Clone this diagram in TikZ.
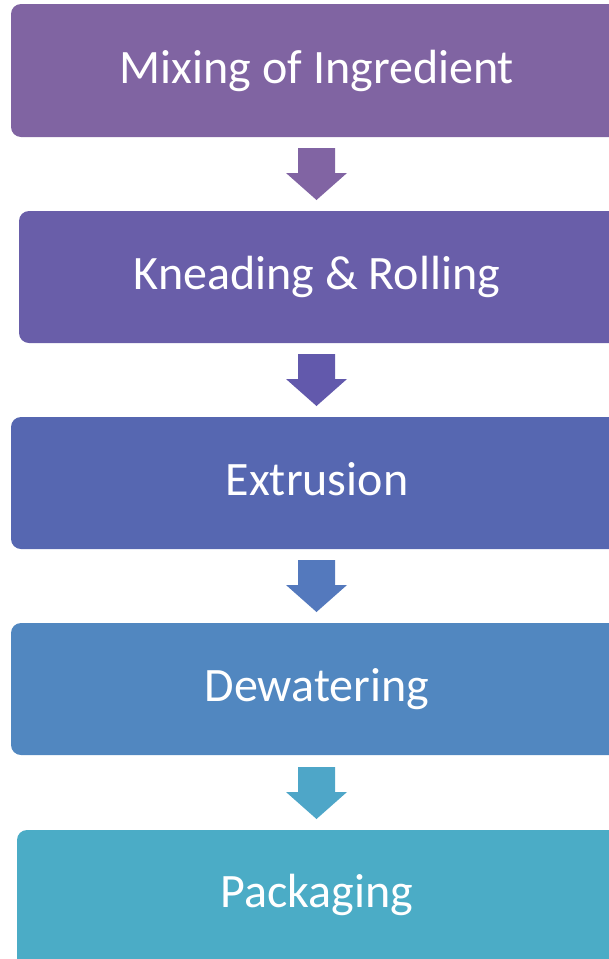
\documentclass[tikz,border=0pt]{standalone}
\usepackage{fontspec}
\setmainfont{Carlito}
\begin{document}
\begin{tikzpicture}[x=1pt,y=-1pt,
  stepbox/.style={rounded corners=10pt, inner sep=0pt},
  steptext/.style={text=white, font=\fontsize{48}{56}\selectfont, anchor=base, inner sep=0pt},
  downarrow/.style={draw=none}]
\definecolor{cA}{HTML}{8064A2}
\definecolor{cB}{HTML}{695EA9}
\definecolor{cC}{HTML}{5667B1}
\definecolor{cD}{HTML}{5187C0}
\definecolor{cE}{HTML}{4BACC6}
\definecolor{aA}{HTML}{8164A3}
\definecolor{aB}{HTML}{6259AC}
\definecolor{aC}{HTML}{5479BD}
\definecolor{aD}{HTML}{4EA6C8}
\useasboundingbox (0,0) rectangle (609,959);
\begin{scope}
\clip (0,0) rectangle (609,959);
% boxes
\fill[cA, stepbox] (11,4) rectangle (630,137);
\fill[cB, stepbox] (19,211) rectangle (630,343);
\fill[cC, stepbox] (11,417) rectangle (630,549);
\fill[cD, stepbox] (11,623) rectangle (630,755);
\fill[cE, stepbox] (17,830) rectangle (630,975);
\node[steptext] (t1) at (317,83) {Mixing of Ingredient};
\node[steptext] (t2) at (317,289) {Kneading \& Rolling};
\node[steptext] (t3) at (317,495) {Extrusion};
\node[steptext] (t4) at (317,701) {Dewatering};
\node[steptext] (t5) at (317,907) {Packaging};
% arrows
\foreach \y/\c in {148/aA, 354/aB, 560/aC, 767/aD}{
  \fill[\c] (298,\y) -- (335,\y) -- (335,\y+25) -- (347,\y+25) -- (316.5,\y+52) -- (286,\y+25) -- (298,\y+25) -- cycle;
}
\end{scope}
\end{tikzpicture}
\end{document}
